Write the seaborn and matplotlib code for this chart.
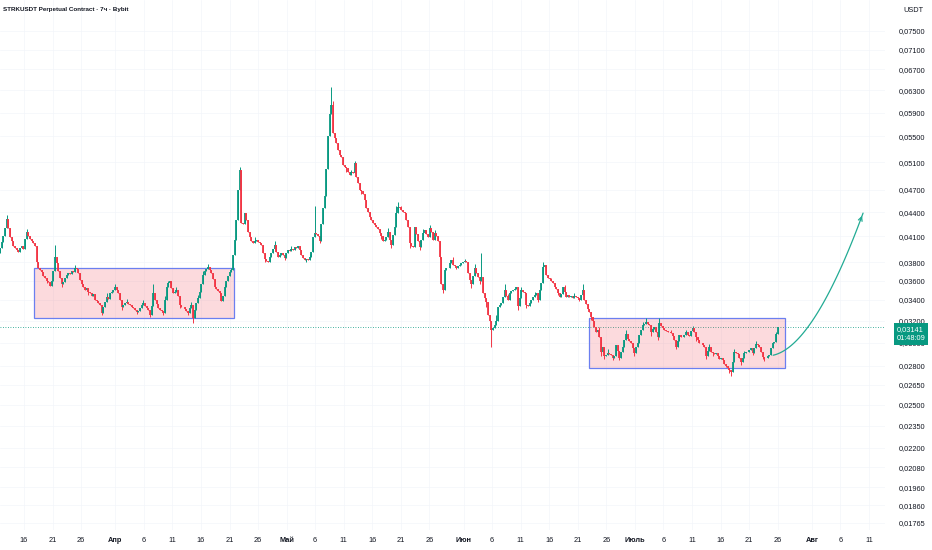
import numpy as np
import pandas as pd
import matplotlib
matplotlib.use("Agg")
import matplotlib.pyplot as plt
import matplotlib.dates as mdates
from matplotlib.patches import Rectangle
from matplotlib.ticker import NullLocator
import seaborn as sns

# ---- данные ----
title = "STRKUSDT Perpetual Contract · 7ч · Bybit"
first_candle = "2025-03-11 19:00"
candle_freq = "7h"
first_open = 3900  # цены в 1e-5 USDT

closes = [
    3960, 4030, 4110, 4200, 4320, 4200, 4090, 4040, 3990, 3960,
    3940, 3920, 3960, 3990, 3950, 4070, 4150, 4110, 4070, 4040,
    4020, 3990, 3800, 3730, 3710, 3690, 3650, 3630, 3600, 3580,
    3540, 3590, 3700, 3860, 3790, 3700, 3630, 3560, 3580, 3630,
    3660, 3680, 3670, 3700, 3690, 3740, 3720, 3680, 3610, 3560,
    3530, 3500, 3520, 3480, 3470, 3440, 3460, 3400, 3390, 3370,
    3350, 3270, 3330, 3380, 3430, 3410, 3470, 3480, 3500, 3530,
    3500, 3470, 3400, 3330, 3350, 3370, 3380, 3360, 3350, 3330,
    3320, 3300, 3280, 3290, 3320, 3350, 3370, 3340, 3320, 3300,
    3250, 3340, 3470, 3400, 3360, 3320, 3300, 3290, 3270, 3400,
    3530, 3570, 3590, 3520, 3470, 3480, 3500, 3440, 3350, 3330,
    3330, 3310, 3290, 3270, 3320, 3350, 3220, 3300, 3370, 3420,
    3480, 3560, 3660, 3700, 3720, 3750, 3710, 3680, 3620, 3530,
    3510, 3490, 3470, 3390, 3440, 3530, 3600, 3650, 3690, 3710,
    3880, 4060, 4300, 4700, 4980, 4270, 4250, 4390, 4300, 4150,
    4090, 4050, 4020, 4050, 4060, 4030, 4020, 4000, 3900, 3830,
    3810, 3800, 3860, 3900, 3950, 4000, 3920, 3860, 3880, 3900,
    3880, 3850, 3900, 3940, 3930, 3950, 3940, 3970, 3960, 3980,
    3940, 3880, 3850, 3820, 3830, 3820, 3860, 3910, 4090, 4140,
    4130, 4100, 4050, 4250, 4450, 4620, 5000, 5500, 5880, 6030,
    5560, 5480, 5400, 5280, 5210, 5170, 5060, 5030, 5010, 4960,
    4910, 4950, 4940, 5080, 4880, 4790, 4700, 4680, 4650, 4560,
    4450, 4400, 4340, 4300, 4260, 4240, 4220, 4190, 4140, 4100,
    4050, 4060, 4090, 4150, 4060, 4000, 4120, 4220, 4390, 4470,
    4460, 4430, 4400, 4390, 4300, 4210, 4020, 3990, 3970, 4210,
    4130, 4050, 3970, 4060, 4140, 4180, 4130, 4090, 4200, 4150,
    4060, 4140, 4100, 4050, 3860, 3560, 3500, 3710, 3730, 3740,
    3790, 3820, 3770, 3760, 3740, 3760, 3770, 3790, 3800, 3810,
    3800, 3680, 3610, 3560, 3650, 3730, 3680, 3640, 3590, 3640,
    3470, 3420, 3380, 3250, 3200, 3110, 3130, 3160, 3200, 3330,
    3350, 3370, 3430, 3500, 3440, 3400, 3470, 3490, 3500, 3510,
    3530, 3340, 3420, 3500, 3480, 3470, 3350, 3340, 3370, 3400,
    3430, 3450, 3470, 3400, 3500, 3570, 3750, 3770, 3660, 3630,
    3620, 3600, 3570, 3530, 3510, 3470, 3430, 3460, 3530, 3480,
    3430, 3450, 3430, 3440, 3420, 3440, 3430, 3420, 3400, 3450,
    3500, 3400, 3360, 3310, 3280, 3230, 3200, 3140, 3090, 3110,
    3050, 2920, 2960, 2880, 2890, 2910, 2900, 2890, 2870, 2880,
    2980, 2930, 2870, 2920, 2960, 3020, 3080, 3030, 3010, 3000,
    2950, 2910, 2960, 3000, 3070, 3110, 3160, 3170, 3190, 3170,
    3160, 3090, 3120, 3140, 3090, 3050, 3180, 3150, 3130, 3110,
    3100, 3095, 3090, 3085, 3060, 3020, 2960, 3010, 3070, 3050,
    3050, 3070, 3090, 3070, 3060, 3100, 3130, 3090, 3050, 3020,
    3000, 2995, 2980, 2960, 2880, 2930, 2960, 2920, 2910, 2900,
    2910, 2880, 2860, 2870, 2850, 2820, 2800, 2780, 2770, 2750,
    2830, 2920, 2910, 2900, 2870, 2830, 2870, 2910, 2915, 2920,
    2935, 2950, 2910, 2950, 2990, 2980, 2960, 2920, 2875, 2865,
    2870, 2880, 2890, 2950, 3000, 3005, 3080, 3141,
]

# заметные тени (индекс свечи -> цена)
wick_high = {4: 4360, 16: 4190, 23: 3790, 33: 4000, 36: 3700, 45: 3770, 57: 3430,
             64: 3470, 69: 3560, 76: 3410, 86: 3400, 92: 3560, 99: 3440, 101: 3600,
             106: 3530, 115: 3380, 119: 3450, 122: 3700, 125: 3780, 135: 3560,
             139: 3740, 144: 5030, 145: 4990, 153: 4090, 165: 4040, 175: 3980,
             186: 3890, 189: 4480, 199: 6360, 200: 6100, 204: 5280, 211: 4990,
             213: 5120, 223: 4330, 233: 4200, 238: 4480, 239: 4530, 241: 4480,
             254: 4190, 258: 4240, 261: 4180, 272: 3860, 279: 3840, 285: 3780,
             289: 3900, 298: 3250, 303: 3560, 305: 3460, 313: 3530, 321: 3480,
             326: 3800, 331: 3630, 339: 3550, 345: 3470, 350: 3560, 360: 3140,
             365: 2940, 376: 3110, 386: 3190, 388: 3220, 396: 3220, 397: 3180,
             403: 3110, 412: 3110, 416: 3150, 426: 2990, 441: 2940, 447: 2930,
             454: 3010, 466: 3090}
wick_low = {28: 3570, 37: 3530, 53: 3450, 61: 3250, 73: 3300, 82: 3260, 90: 3230,
            98: 3250, 108: 3320, 113: 3250, 116: 3180, 132: 3440, 159: 3800,
            171: 3820, 184: 3800, 192: 4020, 208: 4950, 217: 4640, 229: 4070,
            235: 3960, 246: 3960, 252: 3940, 264: 3840, 266: 3470, 274: 3720,
            283: 3520, 288: 3560, 292: 3330, 295: 2960, 311: 3300, 316: 3320,
            323: 3380, 335: 3450, 348: 3390, 355: 3210, 361: 2880, 363: 2860,
            368: 2850, 372: 2850, 373: 2890, 381: 2880, 391: 3060, 395: 3020,
            406: 2940, 418: 3010, 424: 2860, 428: 2880, 436: 2790, 438: 2740,
            439: 2720, 445: 2810, 452: 2890, 458: 2860, 459: 2845}

box_starts = ["2025-03-17 18:00", "2025-06-22 23:00"]
box_ends = ["2025-04-21 18:00", "2025-07-27 07:00"]
box_lows = [0.0322, 0.0278]
box_highs = [0.0373, 0.03225]

arrow_times = ["2025-07-25 05:00", "2025-08-01 09:00", "2025-08-09 23:00"]
arrow_prices = [0.0289, 0.0297, 0.0439]

last_price = 0.03141
countdown = "01:48:09"

price_ticks = [0.075, 0.071, 0.067, 0.063, 0.059, 0.055, 0.051, 0.047, 0.044,
               0.041, 0.038, 0.036, 0.034, 0.032, 0.030, 0.028, 0.0265, 0.025,
               0.0235, 0.022, 0.0208, 0.0196, 0.0186, 0.01765]

date_ticks = ["2025-03-16", "2025-03-21", "2025-03-26", "2025-04-01", "2025-04-06",
              "2025-04-11", "2025-04-16", "2025-04-21", "2025-04-26", "2025-05-01",
              "2025-05-06", "2025-05-11", "2025-05-16", "2025-05-21", "2025-05-26",
              "2025-06-01", "2025-06-06", "2025-06-11", "2025-06-16", "2025-06-21",
              "2025-06-26", "2025-07-01", "2025-07-06", "2025-07-11", "2025-07-16",
              "2025-07-21", "2025-07-26", "2025-08-01", "2025-08-06", "2025-08-11"]
date_labels = ["16", "21", "26", "Апр", "6", "11", "16", "21", "26", "Май",
               "6", "11", "16", "21", "26", "Июн", "6", "11", "16", "21", "26",
               "Июль", "6", "11", "16", "21", "26", "Авг", "6", "11"]
month_labels = {"Апр", "Май", "Июн", "Июль", "Авг"}

UP = "#089981"
DOWN = "#f23645"
TEXT = "#131722"

sns.set_theme(style="white")
plt.rcParams["font.family"] = ["Liberation Sans", "DejaVu Sans"]

# ---- свечи ----
df = pd.DataFrame({"time": pd.date_range(first_candle, periods=len(closes), freq=candle_freq),
                   "close": np.array(closes) / 1e5})
df["open"] = np.r_[first_open, closes[:-1]] / 1e5
df["high"] = df[["open", "close"]].max(axis=1)
df["low"] = df[["open", "close"]].min(axis=1)
for i, v in wick_high.items():
    df.loc[i, "high"] = max(df.loc[i, "high"], v / 1e5)
for i, v in wick_low.items():
    df.loc[i, "low"] = min(df.loc[i, "low"], v / 1e5)
df["color"] = np.where(df["close"] >= df["open"], UP, DOWN)
x = mdates.date2num(df["time"])

fig = plt.figure(figsize=(9.32, 5.5), dpi=100)
ax = fig.add_axes([0, 20 / 550, 885 / 932, 530 / 550])

ax.vlines(x, df["low"], df["high"], colors=df["color"], lw=0.7, zorder=3)
ax.vlines(x, df[["open", "close"]].min(axis=1), df[["open", "close"]].max(axis=1),
          colors=df["color"], lw=1.3, zorder=3)

# прямоугольники диапазонов
for s, e, lo, hi in zip(box_starts, box_ends, box_lows, box_highs):
    x0, x1 = mdates.date2num(pd.Timestamp(s)), mdates.date2num(pd.Timestamp(e))
    ax.add_patch(Rectangle((x0, lo), x1 - x0, hi - lo, facecolor=(0.949, 0.212, 0.271, 0.18),
                           edgecolor="#6b7ff0", lw=0.9, zorder=2))

# линия текущей цены
ax.axhline(last_price, color=UP, lw=0.6, ls=(0, (1, 2)), zorder=1)

# кривая стрелка (квадратичная Безье в координатах дата / log цены)
ax_t = mdates.date2num(pd.to_datetime(arrow_times))
ax_p = np.log(arrow_prices)
t = np.linspace(0, 1, 80)
bx = (1 - t) ** 2 * ax_t[0] + 2 * t * (1 - t) * ax_t[1] + t ** 2 * ax_t[2]
by = np.exp((1 - t) ** 2 * ax_p[0] + 2 * t * (1 - t) * ax_p[1] + t ** 2 * ax_p[2])
ax.plot(bx, by, color="#22ab94", lw=0.9, zorder=4)
ax.annotate("", xy=(bx[-1], by[-1]), xytext=(bx[-4], by[-4]),
            arrowprops=dict(arrowstyle="->", color="#22ab94", lw=0.9, mutation_scale=7))

# оси
ax.set_yscale("log")
ax.set_ylim(0.075 * np.exp(-499 / 340), 0.075 * np.exp(31 / 340))
d0 = pd.Timestamp("2025-03-16")
ax.set_xlim(mdates.date2num(d0 - pd.Timedelta(days=4.2035)),
            mdates.date2num(d0 + pd.Timedelta(days=150.8)))

ax.yaxis.tick_right()
ax.set_yticks(price_ticks)
ax.yaxis.set_minor_locator(NullLocator())
ax.set_yticklabels([f"{p:.5f}".replace(".", ",") for p in price_ticks])
ax.set_xticks(mdates.date2num(pd.to_datetime(date_ticks)))
ax.set_xticklabels(date_labels)
for lab in ax.get_xticklabels():
    if lab.get_text() in month_labels:
        lab.set_fontweight("bold")
ax.tick_params(axis="y", length=0, pad=10, labelsize=5.3, labelcolor=TEXT)
ax.tick_params(axis="x", length=0, pad=5, labelsize=5.3, labelcolor=TEXT)
ax.grid(True, color="#f3f5fa", lw=0.5, zorder=0)
for sp in ax.spines.values():
    sp.set_visible(False)

# подписи
fig.text(3 / 932, 1 - 10 / 550, title, fontsize=4.5, fontweight="bold", color=TEXT,
         ha="left", va="center")
fig.text(903 / 932, 1 - 10 / 550, "USDT", fontsize=5.3, color=TEXT, ha="left", va="center")
ax.annotate(f"{last_price:.5f}".replace(".", ",") + "\n" + countdown,
            xy=(1, last_price), xycoords=("axes fraction", "data"),
            xytext=(8.3, -5), textcoords="offset points", ha="left", va="center",
            fontsize=5.3, color="white", linespacing=1.5, annotation_clip=False,
            bbox=dict(boxstyle="square,pad=0.35", fc=UP, ec="none"), zorder=10)

fig.savefig("out.png", dpi=100)
